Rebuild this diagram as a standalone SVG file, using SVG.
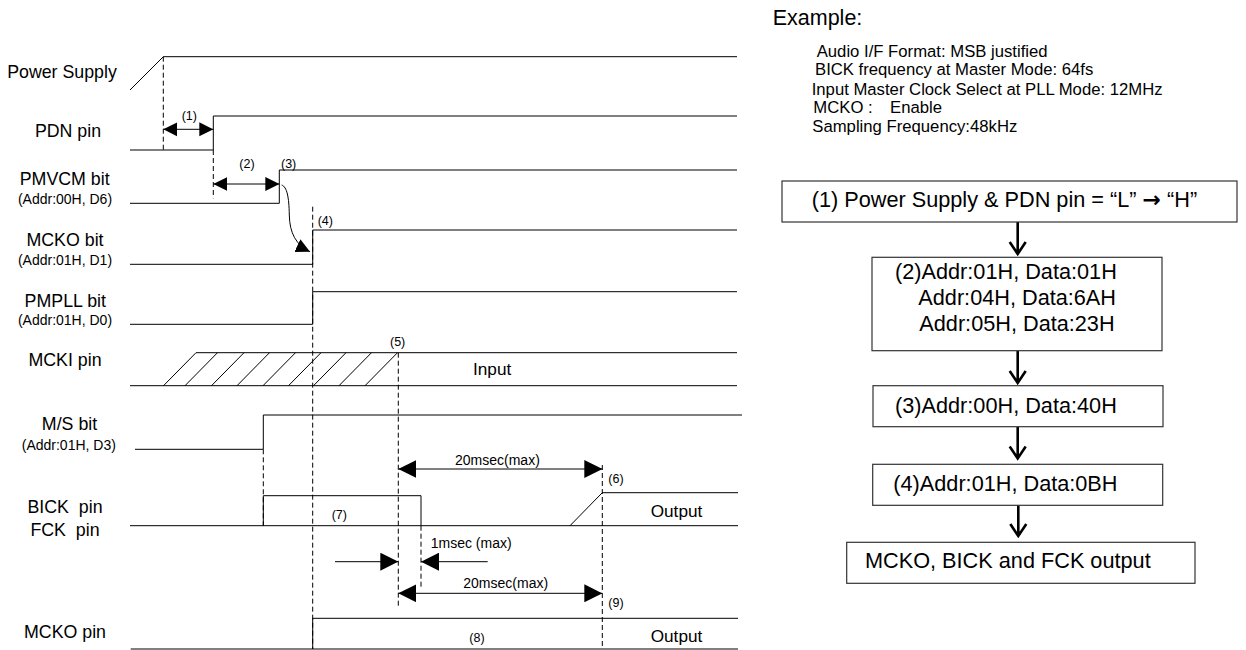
<svg xmlns="http://www.w3.org/2000/svg" width="1246" height="650" viewBox="0 0 1246 650">
<style>
text{font-family:"Liberation Sans",Arial,sans-serif;fill:#000}
.lbl{font-size:17.8px;text-anchor:middle;white-space:pre}
.sub{font-size:14px;text-anchor:middle}
.num{font-size:12.5px}
.ms{font-size:14px}
.out{font-size:17.2px}
.wave{fill:none;stroke:#000;stroke-width:1}
.dash{fill:none;stroke:#000;stroke-width:1;stroke-dasharray:5,3}
.dim{fill:none;stroke:#000;stroke-width:1}
.box{fill:#fff;stroke:#333;stroke-width:1.2}
.ft{font-size:21.7px}
.ex{font-size:16.7px}
.ttl{font-size:21.5px}
.flow{fill:none;stroke:#000;stroke-width:2.6}
.arr{font-family:"DejaVu Sans",sans-serif;font-size:22px;font-weight:bold}
</style>
<defs>
<marker id="ahS" viewBox="0 0 10 10" refX="10" refY="5" markerUnits="userSpaceOnUse" markerWidth="14" markerHeight="15" orient="auto-start-reverse"><path d="M0,0 L10,5 L0,10 z" fill="#000"/></marker>
<marker id="ahL" viewBox="0 0 10 10" refX="10" refY="5" markerUnits="userSpaceOnUse" markerWidth="18" markerHeight="18" orient="auto-start-reverse"><path d="M0,0 L10,5 L0,10 z" fill="#000"/></marker>
</defs>

<g id="labels">
<text class="lbl" x="62" y="78.3">Power Supply</text>
<text class="lbl" x="68" y="137.3">PDN pin</text>
<text class="lbl" x="64.7" y="185">PMVCM bit</text>
<text class="sub" x="65" y="204">(Addr:00H, D6)</text>
<text class="lbl" x="65" y="246">MCKO bit</text>
<text class="sub" x="65" y="265">(Addr:01H, D1)</text>
<text class="lbl" x="65.3" y="306.7">PMPLL bit</text>
<text class="sub" x="65" y="325">(Addr:01H, D0)</text>
<text class="lbl" x="65" y="366">MCKI pin</text>
<text class="lbl" x="69.5" y="430">M/S bit</text>
<text class="sub" x="68.8" y="450">(Addr:01H, D3)</text>
<text class="lbl" x="65" y="513.3">BICK  pin</text>
<text class="lbl" x="65" y="536">FCK  pin</text>
<text class="lbl" x="65" y="638.3">MCKO pin</text>
</g>

<g id="sig-power"><path class="wave" d="M130,90 L163.3,56.7 L737,56.7"/></g>
<g id="sig-pdn"><path class="wave" d="M130,150 L213.3,150 L213.3,116 L737,116"/></g>
<g id="sig-pmvcm"><path class="wave" d="M130,203.3 L279.3,203.3 L279.3,170 L737,170"/></g>
<g id="sig-mcko-bit"><path class="wave" d="M130,264.3 L312.7,264.3 L312.7,230 L737,230"/></g>
<g id="sig-pmpll"><path class="wave" d="M130,324.3 L312.7,324.3 L312.7,291.7 L737,291.7"/></g>
<g id="sig-mcki">
<path class="wave" d="M130,385.7 L737,385.7 M196,352.7 L737,352.7"/>
<path class="wave" d="M163.5,385.7 l32.5,-33 M185,385.7 l32.5,-33 M211.5,385.7 l32.5,-33 M237,385.7 l32.5,-33 M263,385.7 l32.5,-33 M288.5,385.7 l32.5,-33 M313.5,385.7 l32.5,-33 M339,385.7 l32.5,-33 M365,385.7 l32.5,-33"/>
<text class="out" x="473" y="375">Input</text>
</g>
<g id="sig-ms"><path class="wave" d="M135,449.3 L263.3,449.3 L263.3,415 L742,415"/></g>
<g id="sig-bick">
<path class="wave" d="M130,525.7 L738,525.7 M263.3,525.7 L263.3,495.7 L421,495.7 L421,525.7 M570,525.7 L602.3,492.7 L738,492.7"/>
<text class="out" x="650.7" y="516.7">Output</text>
</g>
<g id="sig-mcko-pin">
<path class="wave" d="M130.7,649 L738,649 M312.7,649 L312.7,618.3 L738,618.3"/>
<text class="out" x="650.7" y="641.7">Output</text>
</g>

<g id="connectors">
<path class="dash" d="M163.3,56.7 V150 M213.3,150 V198.3 M312.7,206.7 V649 M398.3,352.7 V606.7 M263.3,449.3 V525.7 M421,525.7 V589.3 M602.3,465 V649"/>
<path class="dim" d="M163.3,129.3 H213.3" marker-start="url(#ahS)" marker-end="url(#ahS)"/>
<path class="dim" d="M213.3,184 H279.3" marker-start="url(#ahS)" marker-end="url(#ahS)"/>
<path class="dim" d="M281.7,185 C287,187 289,197 289.3,215 C289.6,233 296,245 310,251.7" marker-end="url(#ahS)"/>
<path class="dim" d="M398.3,469 H602.3" marker-start="url(#ahL)" marker-end="url(#ahL)"/>
<path class="dim" d="M335,561.7 H398.3" marker-end="url(#ahL)"/>
<path class="dim" d="M487.7,561.7 H421" marker-end="url(#ahL)"/>
<path class="dim" d="M398.3,593.3 H602.3" marker-start="url(#ahL)" marker-end="url(#ahL)"/>
<path class="flow" d="M1017.7,222 V254 M1009.7,242 L1017.7,254 L1025.7,242"/>
<path class="flow" d="M1017.7,350.7 V383 M1009.7,371 L1017.7,383 L1025.7,371"/>
<path class="flow" d="M1017.7,426.7 V458.5 M1009.7,446.5 L1017.7,458.5 L1025.7,446.5"/>
<path class="flow" d="M1018.3,505.3 V536 M1010.3,524 L1018.3,536 L1026.3,524"/>
</g>

<g id="annotations">
<text class="num" x="181.7" y="120">(1)</text>
<text class="num" x="239.3" y="168.3">(2)</text>
<text class="num" x="281" y="168.3">(3)</text>
<text class="num" x="317.7" y="225">(4)</text>
<text class="num" x="390" y="346">(5)</text>
<text class="num" x="608.3" y="483.3">(6)</text>
<text class="num" x="331.7" y="519.3">(7)</text>
<text class="num" x="469.3" y="641.7">(8)</text>
<text class="num" x="608.3" y="606.7">(9)</text>
<text class="ms" x="455" y="465">20msec(max)</text>
<text class="ms" x="430.7" y="547.7">1msec (max)</text>
<text class="ms" x="463.3" y="588.3">20msec(max)</text>
</g>

<g id="example">
<text class="ttl" x="772.7" y="25">Example:</text>
<text class="ex" x="816.7" y="56.7">Audio I/F Format: MSB justified</text>
<text class="ex" x="815" y="75">BICK frequency at Master Mode: 64fs</text>
<text class="ex" x="811.7" y="95">Input Master Clock Select at PLL Mode: 12MHz</text>
<text class="ex" x="813.3" y="113.3">MCKO :<tspan x="890">Enable</tspan></text>
<text class="ex" x="812.3" y="131.7">Sampling Frequency:48kHz</text>
</g>

<g id="step1"><rect class="box" x="782" y="181" width="455" height="41"/><text class="ft" x="811.7" y="206.7">(1) Power Supply &amp; PDN pin = “L” <tspan class="arr">→</tspan> “H”</text></g>
<g id="step2"><rect class="box" x="872" y="257.3" width="290" height="93.4"/>
<text class="ft" x="895" y="279">(2)Addr:01H, Data:01H</text>
<text class="ft" x="918.3" y="305">Addr:04H, Data:6AH</text>
<text class="ft" x="919.3" y="330.7">Addr:05H, Data:23H</text></g>
<g id="step3"><rect class="box" x="873" y="385.7" width="290" height="41"/><text class="ft" x="895" y="413.3">(3)Addr:00H, Data:40H</text></g>
<g id="step4"><rect class="box" x="872.7" y="464.3" width="290" height="41"/><text class="ft" x="893.3" y="490.7">(4)Addr:01H, Data:0BH</text></g>
<g id="step5"><rect class="box" x="846.7" y="542.3" width="348.3" height="41"/><text class="ft" x="865" y="568.3">MCKO, BICK and FCK output</text></g>
</svg>
